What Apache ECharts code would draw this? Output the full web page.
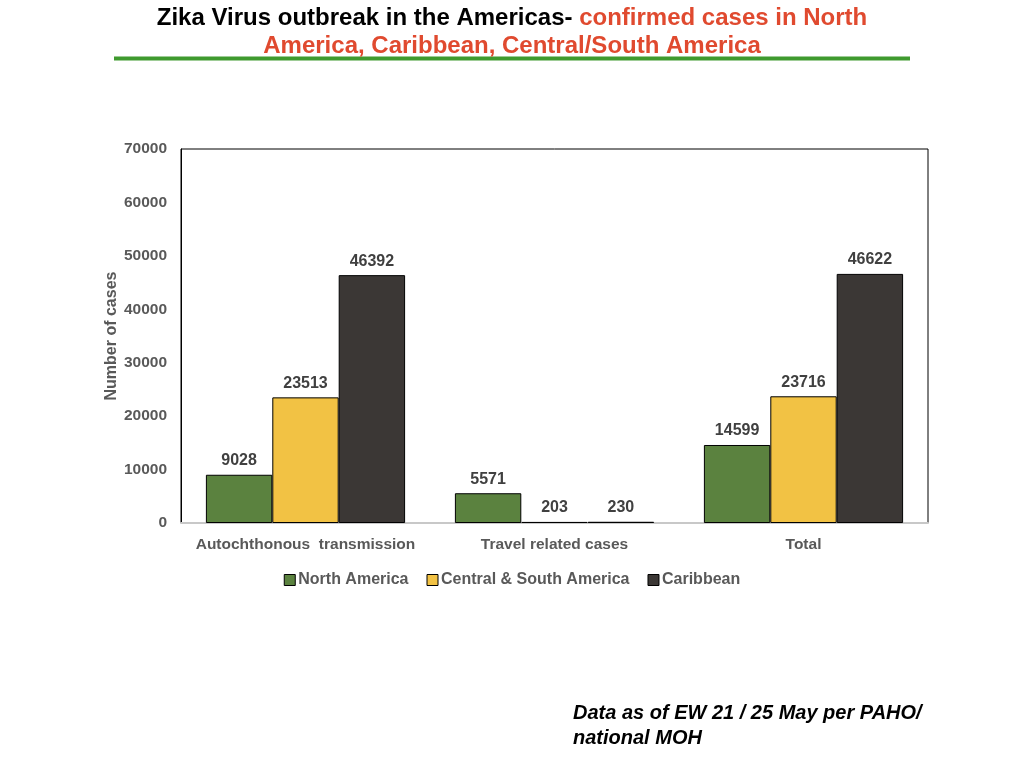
<!DOCTYPE html>
<html>
<head>
<meta charset="utf-8">
<script src="https://cdn.jsdelivr.net/npm/echarts@6/dist/echarts.min.js"></script>
<style>
  html, body { margin: 0; padding: 0; background: #fff; }
  #chart { width: 1024px; height: 768px; }
</style>
</head>
<body>
<div id="chart"></div>
<script>
// 数据：分类、各地区病例数
const categories = ['Autochthonous  transmission', 'Travel related cases', 'Total'];
const northAmerica = [9028, 5571, 14599];
const centralSouth = [23513, 203, 23716];
const caribbean = [46392, 230, 46622];
const seriesNames = ['North America', 'Central & South America', 'Caribbean'];
const seriesColors = ['#5b823f', '#f2c244', '#3b3735'];

document.addEventListener('DOMContentLoaded', () => {
    const chart = echarts.init(document.getElementById('chart'));
    const font = 'Liberation Sans, Arial, sans-serif';
    const labelStyle = {
        show: true, position: 'top', distance: 6,
        color: '#404040', fontWeight: 'bold', fontSize: 16, fontFamily: font
    };
    const makeSeries = (name, data, color) => ({
        name, type: 'bar', data,
        barGap: '0%', barCategoryGap: '20%',
        itemStyle: { color, borderColor: '#000', borderWidth: 1 },
        label: labelStyle
    });

    const option = {
        backgroundColor: '#fff',
        animation: false,
        title: [{
            left: 'center', top: 6, padding: 0,
            text: '{b|Zika Virus outbreak in the Americas- }{r|confirmed cases in North}',
            textStyle: {
                rich: {
                    b: { color: '#000', fontWeight: 'bold', fontSize: 24, fontFamily: font },
                    r: { color: '#e04a2f', fontWeight: 'bold', fontSize: 24, fontFamily: font }
                }
            }
        }, {
            left: 'center', top: 34, padding: 0,
            text: 'America, Caribbean, Central/South America',
            textStyle: { color: '#e04a2f', fontWeight: 'bold', fontSize: 24, fontFamily: font }
        }],
        graphic: [{
            type: 'line',
            shape: { x1: 114, y1: 58.5, x2: 910, y2: 58.5 },
            style: { stroke: '#3f9a2e', lineWidth: 4 }
        }, {
            type: 'text', left: 573, top: 701,
            style: {
                text: 'Data as of EW 21 / 25 May per PAHO/\nnational MOH',
                fill: '#000', font: 'italic bold 20px ' + font, lineHeight: 25
            }
        }],
        legend: {
            data: seriesNames,
            top: 567, left: 'center',
            itemWidth: 11, itemHeight: 11, itemGap: 18,
            icon: 'rect',
            itemStyle: { borderColor: '#000', borderWidth: 1 },
            textStyle: { color: '#595959', fontWeight: 'bold', fontSize: 16, fontFamily: font, padding: [0, 0, 0, -2] }
        },
        grid: {
            left: 181, top: 149, width: 747, height: 374,
            show: true, borderColor: '#000', borderWidth: 1
        },
        xAxis: {
            type: 'category', data: categories,
            axisLine: { lineStyle: { color: '#c8c8c8', width: 2 } },
            axisTick: { show: false },
            axisLabel: { interval: 0, color: '#595959', fontWeight: 'bold', fontSize: 15.5, fontFamily: font, margin: 14 }
        },
        yAxis: {
            type: 'value', min: 0, max: 70000, interval: 10000,
            name: 'Number of cases', nameLocation: 'middle', nameGap: 61,
            nameMoveOverlap: false,
            nameTextStyle: { color: '#595959', fontWeight: 'bold', fontSize: 16, fontFamily: font },
            axisLine: { show: true, lineStyle: { color: '#000', width: 1 } },
            axisTick: { show: false },
            splitLine: { show: false },
            axisLabel: {
                color: '#595959', fontWeight: 'bold', fontSize: 15.5, fontFamily: font, margin: 14,
                formatter: v => String(v)
            }
        },
        series: [
            makeSeries(seriesNames[0], northAmerica, seriesColors[0]),
            makeSeries(seriesNames[1], centralSouth, seriesColors[1]),
            makeSeries(seriesNames[2], caribbean, seriesColors[2])
        ]
    };
    chart.setOption(option);
});
</script>
</body>
</html>
